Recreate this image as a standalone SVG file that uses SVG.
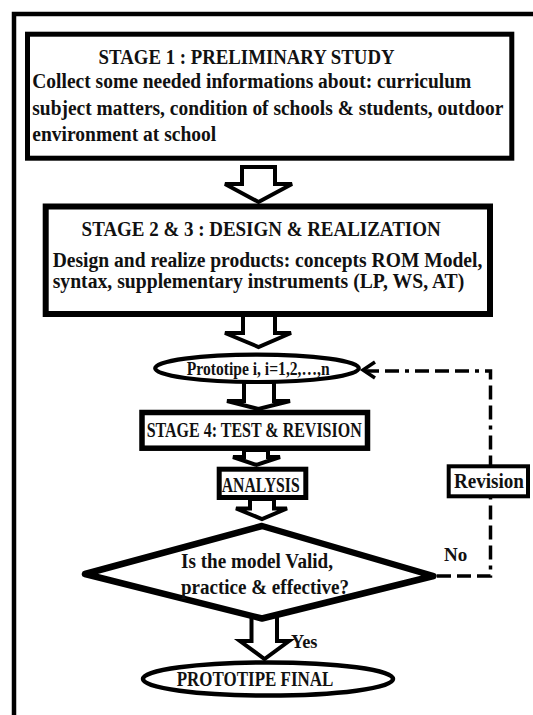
<svg xmlns="http://www.w3.org/2000/svg" width="533" height="715" viewBox="0 0 533 715">
<style>
text{font-family:'Liberation Serif','DejaVu Serif',serif;font-weight:700;fill:#111}
.box{fill:#fff;stroke:#000}
.barrow{fill:#fff;stroke:#000;stroke-width:4;stroke-linejoin:miter}
.dash{fill:none;stroke:#000;stroke-width:3.5;stroke-dasharray:14 6 14 6 14 6 4 6}
.s1{font-size:19.4px}
.s2{font-size:19.6px}
</style>
<rect width="533" height="715" fill="#fff"/>
<path id="frame" d="M14,720 V14 H540" fill="none" stroke="#000" stroke-width="4.5"/>

<g id="connectors">
  <polygon class="barrow" points="242,167 275,167 275,184 292,184 258.5,202 225,184 242,184"/>
  <polygon class="barrow" points="243,315 275,315 275,333 291,333 258.5,347 225,333 243,333"/>
  <polygon class="barrow" points="244,382 274,382 274,401 290,401 258.5,409 227,401 244,401"/>
  <polygon class="barrow" points="244,450 268,450 268,457 280,457 256.5,465 233,457 244,457"/>
  <polygon class="barrow" points="250,499 274,499 274,508.5 287,508.5 262,519 236,508.5 250,508.5"/>
  <polygon class="barrow" points="251.5,612 277,612 277,641 289,641 264.5,659 240,641 251.5,641"/>
  <path class="dash" d="M437,576 H490.5 V371 H366"/>
  <polyline points="375,362 363,370 375,378" fill="none" stroke="#000" stroke-width="3.5"/>
  <text transform="translate(291,647.5) scale(1,1.05)" font-size="17" textLength="26.5" lengthAdjust="spacingAndGlyphs">Yes</text>
  <text transform="translate(444,561)" font-size="19" textLength="23.3" lengthAdjust="spacingAndGlyphs">No</text>
</g>

<g id="stage1">
  <rect class="box" x="27.5" y="34.2" width="484.3" height="124" stroke-width="5"/>
  <text class="s1" transform="translate(98.6,64.3) scale(1,1.11)" textLength="296" lengthAdjust="spacingAndGlyphs">STAGE 1 : PRELIMINARY STUDY</text>
  <text class="s1" transform="translate(32.3,88.3) scale(1,1.11)" textLength="439" lengthAdjust="spacingAndGlyphs">Collect some needed informations about: curriculum</text>
  <text class="s1" transform="translate(32.3,114.8) scale(1,1.11)" textLength="471" lengthAdjust="spacingAndGlyphs">subject matters, condition of schools &amp; students, outdoor</text>
  <text class="s1" transform="translate(32.3,140.7) scale(1,1.11)" textLength="184" lengthAdjust="spacingAndGlyphs">environment at school</text>
</g>

<g id="stage23">
  <rect class="box" x="45.7" y="206.5" width="444.3" height="107.5" stroke-width="6"/>
  <text class="s2" transform="translate(81.6,236) scale(1,1.05)" textLength="359" lengthAdjust="spacingAndGlyphs">STAGE 2 &amp; 3 : DESIGN &amp; REALIZATION</text>
  <text class="s2" transform="translate(52.7,266.5) scale(1,1.05)" textLength="429.6" lengthAdjust="spacingAndGlyphs">Design and realize products: concepts ROM Model,</text>
  <text class="s2" transform="translate(52.7,287.5) scale(1,1.05)" textLength="411.6" lengthAdjust="spacingAndGlyphs">syntax, supplementary instruments (LP, WS, AT)</text>
</g>

<g id="prototipe">
  <ellipse class="box" cx="257" cy="368.3" rx="101.8" ry="13.7" stroke-width="4.2"/>
  <text transform="translate(186.7,375) scale(1,1.15)" font-size="15.6" textLength="143" lengthAdjust="spacingAndGlyphs">Prototipe i, i=1,2,…,n</text>
</g>

<g id="stage4">
  <rect class="box" x="142" y="412.5" width="225.5" height="35.7" stroke-width="5.5"/>
  <text transform="translate(146.7,436.7) scale(1,1.26)" font-size="15.9" textLength="215" lengthAdjust="spacingAndGlyphs">STAGE 4: TEST &amp; REVISION</text>
</g>

<g id="analysis">
  <rect class="box" x="219.2" y="469.2" width="86.6" height="28.3" stroke-width="5"/>
  <text transform="translate(221.7,491.7) scale(1,1.3)" font-size="15.4" textLength="78" lengthAdjust="spacingAndGlyphs">ANALYSIS</text>
</g>

<g id="decision">
  <polygon class="box" points="262,526 433.5,576 262,618.5 85,574" stroke-width="6.5" stroke-linejoin="round"/>
  <text transform="translate(181,568.3) scale(1,1.05)" font-size="19" textLength="152" lengthAdjust="spacingAndGlyphs">Is the model Valid,</text>
  <text transform="translate(181,593.5) scale(1,1.05)" font-size="19" textLength="168" lengthAdjust="spacingAndGlyphs">practice &amp; effective?</text>
</g>

<g id="revision">
  <rect class="box" x="448.7" y="466.3" width="79.3" height="30" stroke-width="4"/>
  <text transform="translate(454,488.3) scale(1,1.05)" font-size="19" textLength="70" lengthAdjust="spacingAndGlyphs">Revision</text>
</g>

<g id="final">
  <ellipse class="box" cx="268" cy="679" rx="125" ry="16.5" stroke-width="4.5"/>
  <text transform="translate(176.7,685.5) scale(1,1.18)" font-size="17" textLength="156.7" lengthAdjust="spacingAndGlyphs">PROTOTIPE FINAL</text>
</g>
</svg>
